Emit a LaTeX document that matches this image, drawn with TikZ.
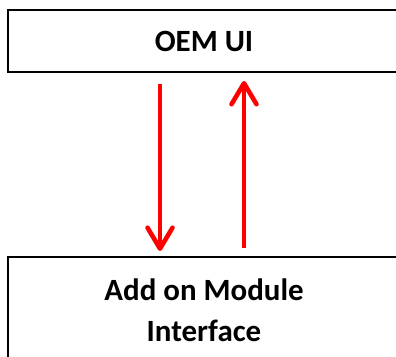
\documentclass[tikz,border=0pt]{standalone}
\usepackage{fontspec}
\setmainfont{Carlito}
\usetikzlibrary{positioning,arrows.meta}

\begin{document}
\begin{tikzpicture}[
    node distance=3.66cm,
    layer_block/.style={rectangle, draw=black, line width=1.1pt, minimum width=7.84cm, align=center, font=\fontsize{17.6}{23.2}\selectfont\bfseries},
    flow_arrow/.style={-{Straight Barb[round, length=0.42cm, width=0.5cm]}, red, line width=2.6pt}
]
\useasboundingbox (0,0) rectangle (7.92,-7.14);

% Upper layer
\node[layer_block, minimum height=1.24cm] (oem_ui) at (4.08,-0.82) {OEM UI};

% Lower layer (runs past the page edge)
\node[layer_block, minimum height=2.12cm, below=of oem_ui] (addon) {Add on Module\\Interface};

% Down and up links between the layers
\draw[flow_arrow] ([xshift=-0.88cm, yshift=-0.22cm]oem_ui.south) -- ([xshift=-0.88cm, yshift=0.1cm]addon.north);
\draw[flow_arrow] ([xshift=0.8cm, yshift=0.16cm]addon.north) -- ([xshift=0.8cm, yshift=-0.16cm]oem_ui.south);

\end{tikzpicture}
\end{document}
